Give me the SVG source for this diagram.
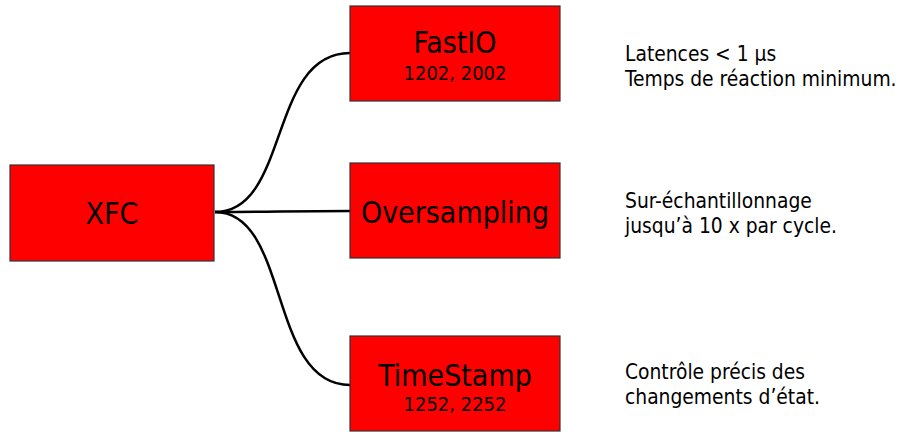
<svg xmlns="http://www.w3.org/2000/svg" width="905" height="432" viewBox="0 0 905 432">
<style>
.box{fill:#ff0000;stroke:#333;stroke-width:1.2}
.t{font-family:"DejaVu Sans Condensed","DejaVu Sans",sans-serif;font-stretch:condensed;fill:#000;text-anchor:middle}
.big{font-size:30px}
.small{font-size:20px}
.note{font-family:"DejaVu Sans Condensed","DejaVu Sans",sans-serif;font-stretch:condensed;font-size:20.8px;fill:#000}
.c{fill:none;stroke:#000;stroke-width:2.5}
</style>
<rect width="905" height="432" fill="#fff"/>
<g id="connectors">
<path class="c" d="M215,212 C290,212 268,53 350,53"/>
<path class="c" d="M215,212 C270,212 290,211 350,211"/>
<path class="c" d="M215,212 C290,212 268,385 350,385"/>
</g>
<g id="xfc">
<rect class="box" x="10" y="165" width="204" height="96"/>
<text class="t big" x="112" y="224">XFC</text>
</g>
<g id="fastio">
<rect class="box" x="350" y="6" width="210" height="95"/>
<text class="t big" x="455" y="53">FastIO</text>
<text class="t small" x="455" y="80">1202, 2002</text>
</g>
<g id="oversampling">
<rect class="box" x="350" y="163" width="210" height="95"/>
<text class="t big" x="455" y="223">Oversampling</text>
</g>
<g id="timestamp">
<rect class="box" x="350" y="336" width="210" height="95"/>
<text class="t big" x="455" y="386">TimeStamp</text>
<text class="t small" x="455" y="411">1252, 2252</text>
</g>
<g id="notes">
<text class="note" x="625" y="61">Latences &lt; 1 µs</text>
<text class="note" x="625" y="86">Temps de réaction minimum.</text>
<text class="note" x="625" y="208">Sur-échantillonnage</text>
<text class="note" x="625" y="233">jusqu’à 10 x par cycle.</text>
<text class="note" x="625" y="379">Contrôle précis des</text>
<text class="note" x="625" y="404">changements d’état.</text>
</g>
</svg>
